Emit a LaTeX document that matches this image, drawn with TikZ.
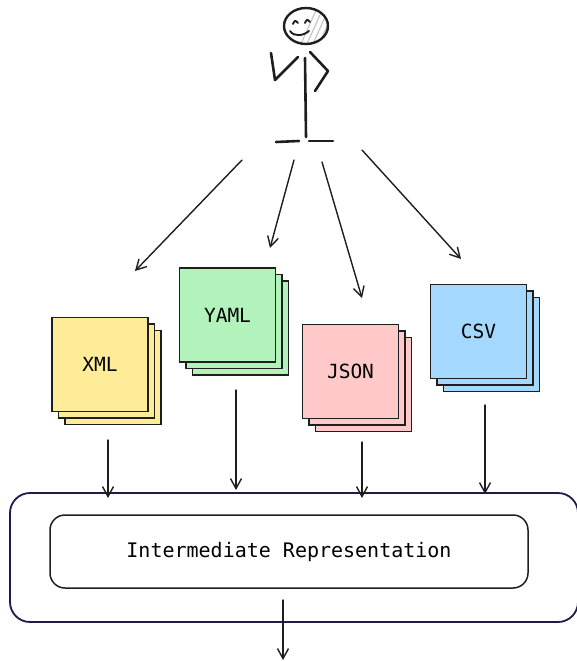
\documentclass[tikz,border=0pt]{standalone}
\usepackage{fontspec}
\newfontfamily\handfont{DejaVu Sans Mono}
\usetikzlibrary{arrows.meta,shadows}

\definecolor{ink}{HTML}{1E1E1E}
\definecolor{navy}{HTML}{1E1B4B}
\definecolor{cardyellow}{HTML}{FFEC99}
\definecolor{cardgreen}{HTML}{B2F2BB}
\definecolor{cardpink}{HTML}{FFC9C9}
\definecolor{cardblue}{HTML}{A5D8FF}

\tikzset{
  figure/.style={draw=ink, line width=2.6pt, line cap=round, line join=round},
  conn/.style={draw=ink, line width=1.4pt, line cap=round,
    -{Straight Barb[length=10pt,width=11pt,line width=1.4pt]}},
  card/.style={draw=ink, line width=1.2pt, fill=#1, minimum width=96pt,
    minimum height=94pt, inner sep=0pt, font=\handfont\fontsize{19.5}{22}\selectfont,
    double copy shadow={shadow xshift=6.5pt, shadow yshift=-6.5pt}},
  outerbox/.style={draw=navy, line width=1.8pt, rounded corners=20pt,
    minimum width=568pt, minimum height=129pt, inner sep=0pt},
  innerbox/.style={draw=ink, line width=1.5pt, rounded corners=15pt,
    minimum width=478pt, minimum height=73pt, inner sep=0pt,
    font=\handfont\fontsize{20}{22}\selectfont}
}

\begin{document}
\begin{tikzpicture}[x=1pt,y=-1pt]
\useasboundingbox (0,0) rectangle (576,661);

% --- stick figure ---
\begin{scope}
  \clip (306,26) ellipse [x radius=22, y radius=18];
  \foreach \d in {0,6,...,30}
    \draw[gray!45, line width=1.2pt] (300+\d,46) -- (318+\d,6);
\end{scope}
\draw[figure, line width=2.4pt] (306,26) ellipse [x radius=22, y radius=18];
\draw[figure, line width=1.9pt] (293,24) .. controls (295,20) .. (298,23);
\draw[figure, line width=1.9pt] (305,23) .. controls (307,19) .. (310,22);
\draw[figure, line width=1.9pt] (290,31) .. controls (294,37) and (303,36) .. (309,31);
\draw[figure] (305,58) -- (306,137);
\draw[figure] (271,53) -- (275,80) -- (298,57);
\draw[figure] (310,52) -- (328,71) -- (315,91);
\draw[figure] (276,142) -- (299,141);
\draw[figure] (309,141) -- (333,141);

% --- arrows from the figure ---
\coordinate (s1) at (242,160);  \coordinate (e1) at (135,271);
\coordinate (s2) at (294,160);  \coordinate (e2) at (270,248);
\coordinate (s3) at (322,162);  \coordinate (e3) at (362,298);
\coordinate (s4) at (362,150);  \coordinate (e4) at (461,259);
\draw[conn] (s1) -- (e1);
\draw[conn] (s2) -- (e2);
\draw[conn] (s3) -- (e3);
\draw[conn] (s4) -- (e4);

% --- format cards ---
\node[card=cardyellow] (xml)  at (100,364.5) {XML};
\node[card=cardgreen]  (yaml) at (227.5,315) {YAML};
\node[card=cardpink]   (json) at (350.5,371.5) {JSON};
\node[card=cardblue]   (csv)  at (478.5,331.5) {CSV};

% --- container and intermediate representation ---
\node[outerbox] (outer) at (294,557.5) {};
\node[innerbox] (ir) at (289,551.5) {Intermediate Representation};

% --- arrows into the container ---
\coordinate (xs) at (108,440);  \coordinate (xe) at (108,498);
\coordinate (ys) at (236,390);  \coordinate (ye) at (236,490);
\coordinate (js) at (362,442);  \coordinate (je) at (362,498);
\coordinate (cs) at (485,405);  \coordinate (ce) at (485,494);
\draw[conn] (xs) -- (xe);
\draw[conn] (ys) -- (ye);
\draw[conn] (js) -- (je);
\draw[conn] (cs) -- (ce);

% --- output arrow ---
\coordinate (os) at (283,600);
\coordinate (oe) at (283,660);
\draw[conn] (os) -- (oe);
\end{tikzpicture}
\end{document}
